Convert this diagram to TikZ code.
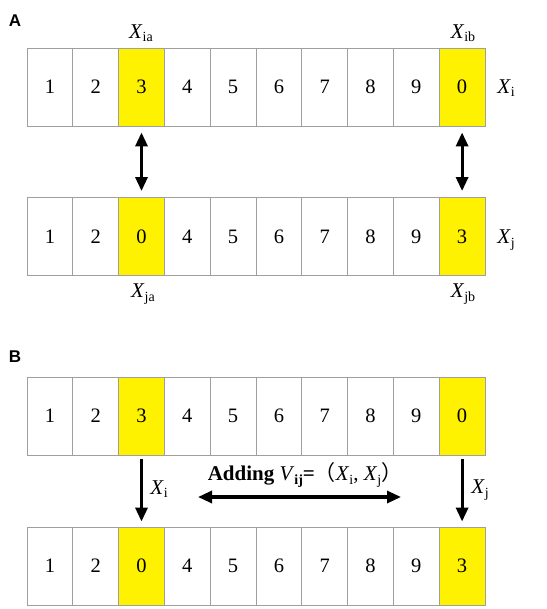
\documentclass[tikz,border=0pt]{standalone}
\usepackage{fontspec}
\setmainfont{Liberation Serif}
\newfontfamily\panelfont{Liberation Sans}
\newfontfamily\cjk{Noto Sans CJK SC}
\usetikzlibrary{arrows.meta}

\newcommand{\xsub}[1]{\textit{X}\raisebox{-0.35ex}{\fontsize{14}{14}\selectfont #1}}

\tikzset{
	cell/.style={rectangle,draw=gray!75,line width=0.9pt,fill=white,minimum width=45.8pt,minimum height=78pt,inner sep=0pt,font=\fontsize{20.5}{20.5}\selectfont},
	hl/.style={cell,fill=yellow},
	lbl/.style={inner sep=0pt,font=\fontsize{21}{21}\selectfont},
	panel/.style={inner sep=0pt,font=\panelfont\bfseries\fontsize{17}{17}\selectfont},
	swaparrow/.style={line width=3.2pt,{Triangle[length=14pt,width=12pt]}-{Triangle[length=14pt,width=12pt]}},
	movearrow/.style={line width=3.2pt,-{Triangle[length=14pt,width=12pt]}},
}

\begin{document}
\begin{tikzpicture}[x=1pt,y=-1pt]
	\useasboundingbox (0,0) rectangle (546,609);

	%panneau A
	\node (panel A) at(15,21) [panel] {A};
	\foreach \v/\s [count=\k] in {1/cell,2/cell,3/hl,4/cell,5/cell,6/cell,7/cell,8/cell,9/cell,0/hl}
		\node (Ai \k) at({27+45.8*(\k-0.5)},87) [\s] {\v};
	\foreach \v/\s [count=\k] in {1/cell,2/cell,0/hl,4/cell,5/cell,6/cell,7/cell,8/cell,9/cell,3/hl}
		\node (Aj \k) at({27+45.8*(\k-0.5)},236.5) [\s] {\v};

	\node (Xia) at(141,33) [lbl] {\xsub{ia}};
	\node (Xib) at(463,33) [lbl] {\xsub{ib}};
	\node (Xi A) at(506,88) [lbl] {\xsub{i}};
	\node (Xj A) at(506,240) [lbl] {\xsub{j}};
	\node (Xja) at(143,294) [lbl] {\xsub{ja}};
	\node (Xjb) at(463,294) [lbl] {\xsub{jb}};

	\path
	(Ai 3.south) edge[swaparrow,shorten <=6pt,shorten >=6pt] (Aj 3.north)
	(Ai 10.south) edge[swaparrow,shorten <=6pt,shorten >=6pt] (Aj 10.north)
	;

	%panneau B
	\node (panel B) at(15,357) [panel] {B};
	\foreach \v/\s [count=\k] in {1/cell,2/cell,3/hl,4/cell,5/cell,6/cell,7/cell,8/cell,9/cell,0/hl}
		\node (Bi \k) at({27+45.8*(\k-0.5)},416) [\s] {\v};
	\foreach \v/\s [count=\k] in {1/cell,2/cell,0/hl,4/cell,5/cell,6/cell,7/cell,8/cell,9/cell,3/hl}
		\node (Bj \k) at({27+45.8*(\k-0.5)},566) [\s] {\v};

	\node (Xi B) at(159,489) [lbl] {\xsub{i}};
	\node (Xj B) at(480,490) [lbl] {\xsub{j}};
	\node (adding) at(305,475) [lbl] {\textbf{Adding} \textit{V}\raisebox{-0.35ex}{\bfseries\fontsize{14}{14}\selectfont ij}\textbf{=}{\cjk （}\xsub{i}, \xsub{j}{\cjk ）}};
	\coordinate (add l) at(198,497);
	\coordinate (add r) at(401,497);

	\path
	(Bi 3.south) edge[movearrow,shorten <=4pt,shorten >=5pt] (Bj 3.north)
	(Bi 10.south) edge[movearrow,shorten <=4pt,shorten >=5pt] (Bj 10.north)
	(add l) edge[swaparrow] (add r)
	;
\end{tikzpicture}
\end{document}
